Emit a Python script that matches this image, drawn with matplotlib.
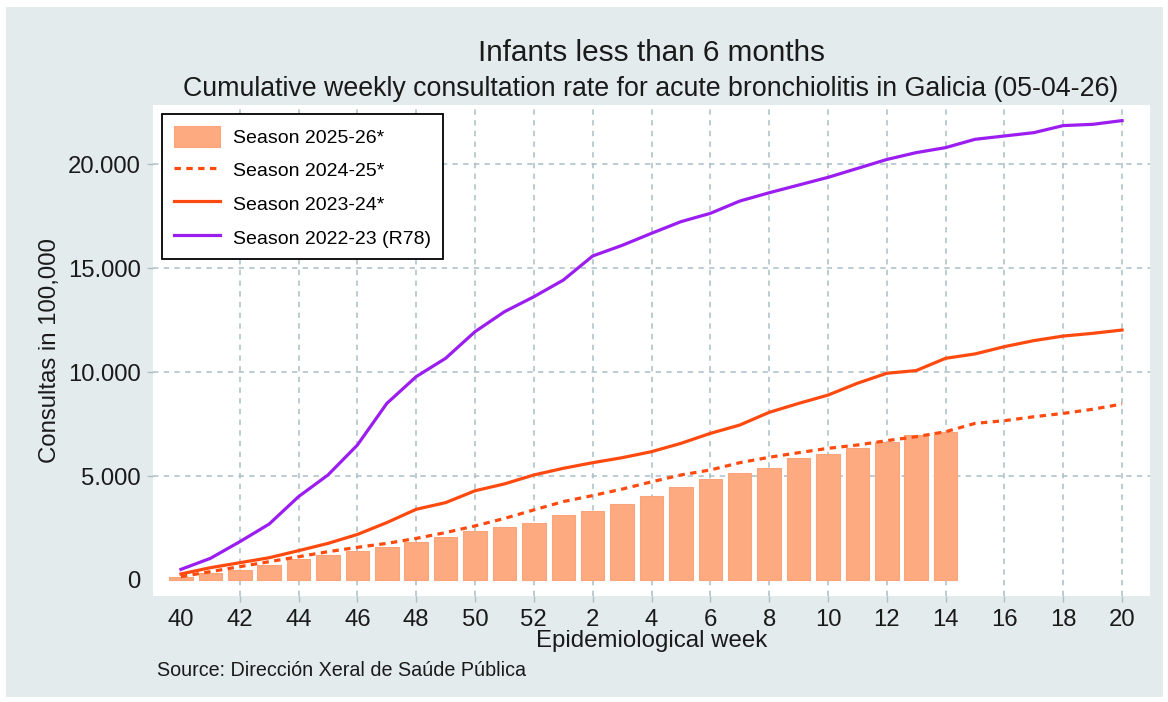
import matplotlib
matplotlib.use("Agg")
from matplotlib import pyplot as plt
from matplotlib.patches import Rectangle
from matplotlib.ticker import FuncFormatter
import numpy as np

plt.rcParams['font.family'] = ['Liberation Sans', 'DejaVu Sans']

# epidemiological weeks 40..52 then 1..20
weeks = list(range(40, 53)) + list(range(1, 21))

s2526 = [160, 350, 480, 720, 990, 1190, 1410, 1570, 1830, 2080, 2360, 2560, 2760,
         3110, 3320, 3650, 4040, 4460, 4840, 5160, 5400, 5880, 6040, 6360, 6620,
         6970, 7130]
s2425 = [160, 400, 640, 880, 1120, 1360, 1570, 1760, 2000, 2280, 2600, 2960, 3370,
         3770, 4060, 4370, 4720, 5050, 5290, 5640, 5900, 6120, 6330, 6490, 6700,
         6890, 7130, 7530, 7660, 7850, 8010, 8210, 8460]
s2324 = [290, 590, 830, 1070, 1410, 1760, 2190, 2760, 3400, 3720, 4290, 4620, 5050,
         5370, 5640, 5880, 6170, 6570, 7050, 7450, 8060, 8490, 8890, 9460, 9940,
         10070, 10660, 10870, 11220, 11510, 11730, 11860, 12020]
s2223 = [510, 1040, 1840, 2690, 4010, 5050, 6490, 8490, 9780, 10660, 11940, 12900,
         13620, 14420, 15580, 16090, 16670, 17230, 17630, 18220, 18620, 18990, 19360,
         19790, 20220, 20550, 20790, 21190, 21350, 21510, 21850, 21910, 22090]

labels = ["Season 2025-26*", "Season 2024-25*", "Season 2023-24*", "Season 2022-23 (R78)"]

W, H = 1168, 702
fig = plt.figure(figsize=(W / 100, H / 100), dpi=100, facecolor='white')
fig.patches.append(Rectangle((6 / W, 5 / H), 1157 / W, 690 / H, transform=fig.transFigure,
                             facecolor='#e4ebed', edgecolor='none', zorder=-10))

ax = fig.add_axes([153 / W, 1 - 596 / H, 997 / W, 491 / H])
ax.set_facecolor('white')

x = np.arange(len(weeks))
bars = ax.bar(x[:len(s2526)], s2526, width=0.8, color='#fdaa80', edgecolor='#f9a47a',
              linewidth=0.8, label=labels[0], zorder=2)
l1, = ax.plot(x, s2425, color='#ff4a0f', lw=2.3, linestyle=(0, (2, 1.7)), label=labels[1], zorder=3)
l2, = ax.plot(x, s2324, color='#ff4a0f', lw=2.3, label=labels[2], zorder=3)
l3, = ax.plot(x, s2223, color='#9b1df0', lw=2.3, label=labels[3], zorder=3)

ax.set_xlim(-0.95, 32.95)
ax.set_ylim(-770, 22840)
ax.set_xticks(x[::2])
ax.set_xticklabels([str(w) for w in weeks[::2]])
ax.set_yticks([0, 5000, 10000, 15000, 20000])
ax.yaxis.set_major_formatter(FuncFormatter(lambda v, p: f"{int(v):,}".replace(",", ".")))

for s in ax.spines.values():
    s.set_visible(False)
ax.tick_params(axis='both', direction='out', length=4, width=1, color='#a9bec6',
               labelsize=17.2, labelcolor='#1a1a1a', pad=5)
ax.set_axisbelow(True)
ax.grid(True, color='#a9bec6', linestyle=(0, (3.5, 3.5)), linewidth=1.1)
for tk in (ax.xaxis.get_major_ticks()[0], ax.yaxis.get_major_ticks()[0]):
    tk.gridline.set_visible(False)
    tk.tick1line.set_visible(False)

ax.set_xlabel("Epidemiological week", fontsize=17.3, color='#1a1a1a', labelpad=0)
ax.set_ylabel("Consultas in 100,000", fontsize=17.3, color='#1a1a1a')
ax.yaxis.set_label_coords(-0.092, 0.5)

leg = ax.legend([bars, l1, l2, l3], labels, loc='upper left',
                bbox_to_anchor=(0.009, 0.982), borderaxespad=0,
                fontsize=14, frameon=True, fancybox=False, edgecolor='black',
                framealpha=1, handlelength=2.4, handleheight=1.3, handletextpad=0.65,
                labelspacing=0.64, borderpad=0.6)
leg.get_frame().set_linewidth(1.3)

fig.text(651 / W, 1 - 61 / H, "Infants less than 6 months", ha='center', va='baseline',
         fontsize=21.4, color='#1a1a1a')
fig.text(651 / W, 1 - 96 / H,
         "Cumulative weekly consultation rate for acute bronchiolitis in Galicia (05-04-26)",
         ha='center', va='baseline', fontsize=19.3, color='#1a1a1a')
fig.text(157 / W, 1 - 676 / H, "Source: Dirección Xeral de Saúde Pública", ha='left',
         va='baseline', fontsize=14.2, color='#1a1a1a')

fig.savefig("out.png", dpi=100, facecolor=fig.get_facecolor())
